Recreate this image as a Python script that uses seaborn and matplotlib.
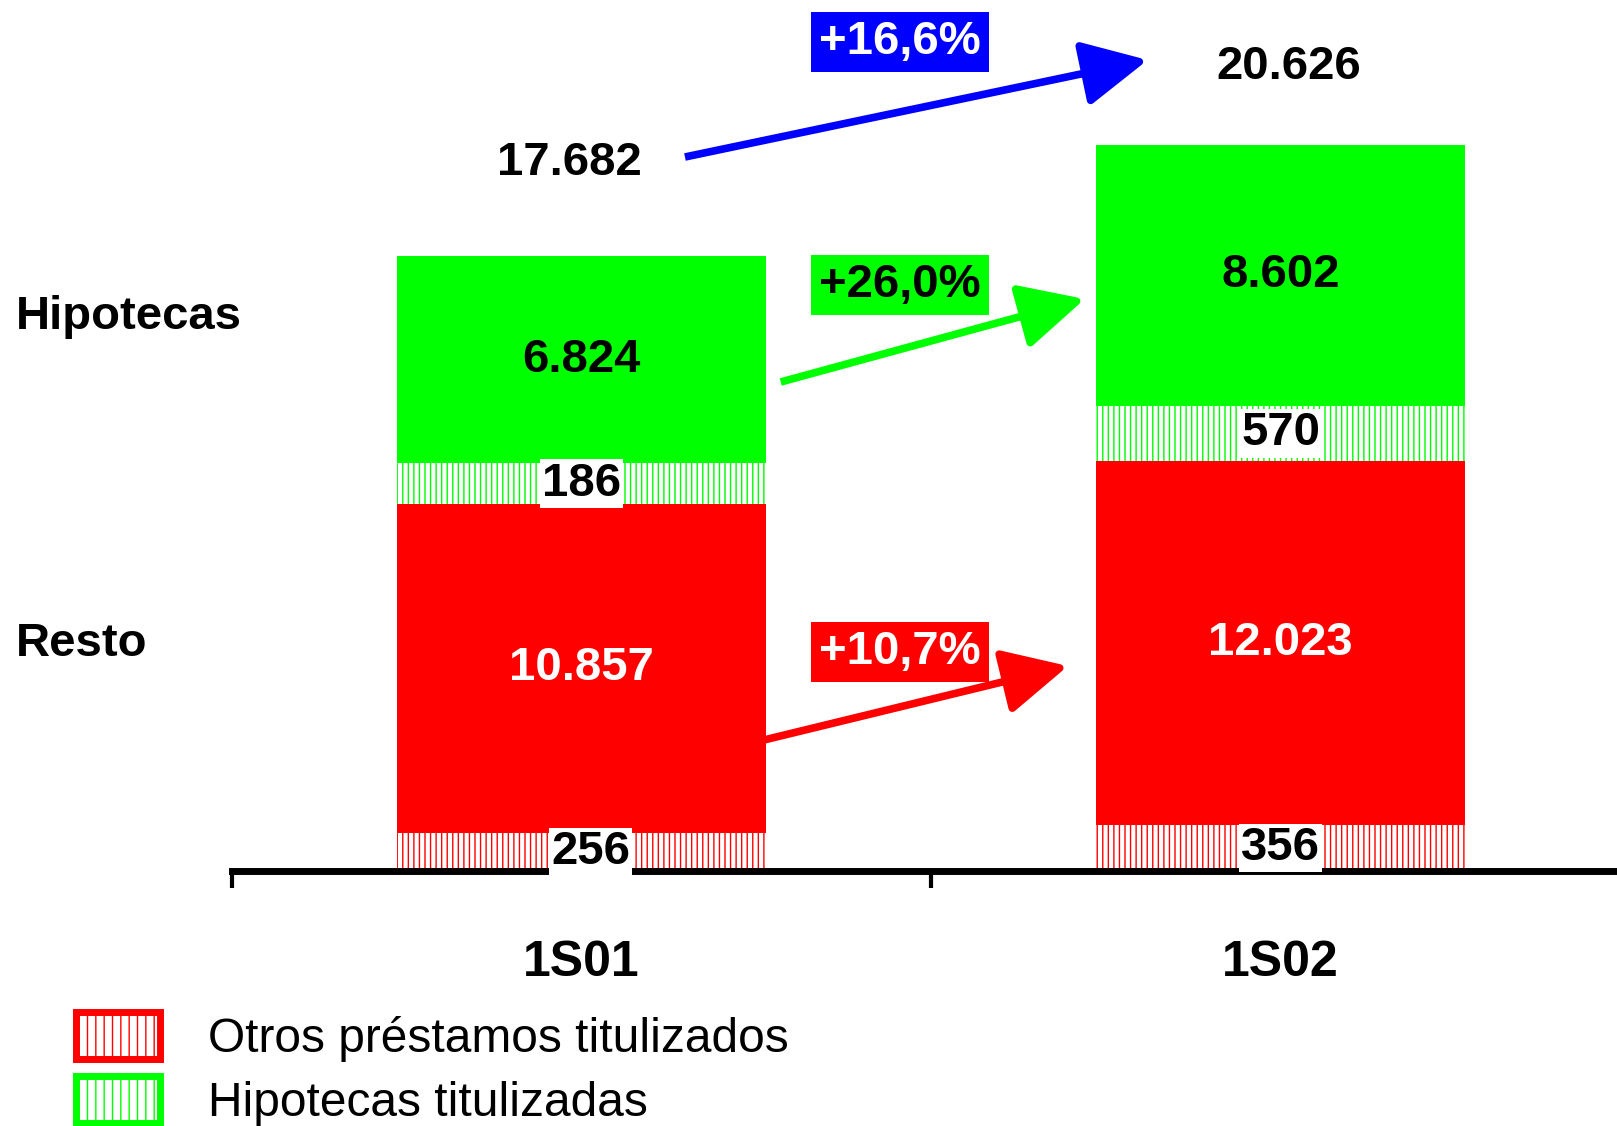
import matplotlib
matplotlib.use("Agg")
import matplotlib.pyplot as plt
from matplotlib.patches import Patch, FancyArrowPatch
import seaborn as sns
import pandas as pd

# datos (millones de euros)
categorias = ["1S01", "1S02"]
resto = [10857, 12023]
hipotecas = [6824, 8602]
otros_tit = [256, 356]
hip_tit = [186, 570]
totales = ["17.682", "20.626"]
variaciones = ["+16,6%", "+26,0%", "+10,7%"]
# altura visible de los tramos titulizados (no estan a escala en el original)
otros_tit_alto = [1254, 1518]
hip_tit_alto = [1353, 1815]

ROJO = "#FF0000"
VERDE = "#00FF00"
AZUL = "#0000FF"

sns.set_style("white")
plt.rcParams["font.family"] = ["Liberation Sans", "DejaVu Sans"]
plt.rcParams["text.color"] = "black"
plt.rcParams["xtick.color"] = "black"
plt.rcParams["xtick.labelcolor"] = "black"

BOLD = 34


def fmt(v):
    return f"{v:,}".replace(",", ".")


df = pd.DataFrame({
    "periodo": categorias,
    "c1": otros_tit_alto,
})
df["c2"] = df["c1"] + pd.Series(resto)
df["c3"] = df["c2"] + pd.Series(hip_tit_alto)
df["c4"] = df["c3"] + pd.Series(hipotecas)

fig = plt.figure(figsize=(16.17, 11.26), dpi=100)
ax = fig.add_axes([232 / 1617, 1 - 871 / 1126, 1398 / 1617, 871 / 1126])

capas = [
    ("c4", VERDE, None),
    ("c3", "white", VERDE),
    ("c2", ROJO, None),
    ("c1", "white", ROJO),
]
for col, cara, rayado in capas:
    antes = len(ax.patches)
    sns.barplot(data=df, x="periodo", y=col, color=cara, saturation=1,
                width=0.527, errorbar=None, linewidth=0, ax=ax)
    for p in ax.patches[antes:]:
        p.set_facecolor(cara)
        if rayado:
            p.set_edgecolor(rayado)
            p.set_hatch("|||")
            p.set_linewidth(0)

ax.set_xlim(-0.5, 1.5)
ax.set_ylim(0, 871 * 33)
ax.set_xlabel("")
ax.set_ylabel("")
ax.set_yticks([])
for s in ["left", "top", "right"]:
    ax.spines[s].set_visible(False)
ax.spines["bottom"].set_linewidth(5)
ax.spines["bottom"].set_color("black")
ax.spines["bottom"].set_zorder(5)
ax.set_xticks([0, 1])
ax.set_xticklabels(categorias, fontsize=36, fontweight="bold", color="black")
ax.tick_params(axis="x", which="major", length=0, pad=50)
ax.set_xticks([-0.5, 0.5, 1.5], minor=True)
ax.tick_params(axis="x", which="minor", bottom=True, length=12, width=3,
               color="black", direction="out")

# etiquetas de los tramos
for i in range(2):
    c1, c2, c3, c4 = df.loc[i, ["c1", "c2", "c3", "c4"]]
    caja = dict(boxstyle="square,pad=0.05", facecolor="white", edgecolor="none")
    ax.text(i + (0.013 if i == 0 else 0), c1 / 2, fmt(otros_tit[i]), ha="center", va="center",
            fontsize=BOLD, fontweight="bold", bbox=caja, zorder=6)
    ax.text(i, (c1 + c2) / 2, fmt(resto[i]), ha="center", va="center",
            fontsize=BOLD, fontweight="bold", color="white")
    ax.text(i, (c2 + c3) / 2, fmt(hip_tit[i]), ha="center", va="center",
            fontsize=BOLD, fontweight="bold", bbox=caja)
    ax.text(i, (c3 + c4) / 2, fmt(hipotecas[i]), ha="center", va="center",
            fontsize=BOLD, fontweight="bold")

ax.text(-0.018, 23364, totales[0], ha="center", va="center", fontsize=BOLD, fontweight="bold")
ax.text(1.012, 26532, totales[1], ha="center", va="center", fontsize=BOLD, fontweight="bold")

# flechas de variacion
flechas = [
    ((0.148, 23562), (0.810, 26763), AZUL),
    ((0.285, 16137), (0.720, 18876), VERDE),
    ((0.261, 4323), (0.696, 6765), ROJO),
]
for a, b, c in flechas:
    ax.add_patch(FancyArrowPatch(a, b, arrowstyle="-|>,head_length=40,head_width=20",
                                 mutation_scale=1, color=c, linewidth=5.5,
                                 capstyle="butt", joinstyle="round",
                                 shrinkA=0, shrinkB=0, clip_on=False, zorder=4))

cajas = [(27357, AZUL, "white"), (19338, VERDE, "black"), (7227, ROJO, "white")]
for txt, (y, fondo, letra) in zip(variaciones, cajas):
    ax.text(0.456, y, txt, ha="center", va="center", fontsize=BOLD, fontweight="bold",
            color=letra, zorder=5,
            bbox=dict(boxstyle="square,pad=0.17", facecolor=fondo, edgecolor="none"))

fig.text(16 / 1617, 1 - 317 / 1126, "Hipotecas", ha="left", va="center", fontsize=BOLD, fontweight="bold")
fig.text(16 / 1617, 1 - 644 / 1126, "Resto", ha="left", va="center", fontsize=BOLD, fontweight="bold")

handles = [
    Patch(facecolor="white", edgecolor=ROJO, hatch="||", linewidth=5),
    Patch(facecolor="white", edgecolor=VERDE, hatch="||", linewidth=5),
]
fig.legend(handles, ["Otros préstamos titulizados", "Hipotecas titulizadas"],
           loc="upper left", bbox_to_anchor=(76 / 1617, 1 - 1012 / 1126),
           frameon=False, fontsize=34.5, borderpad=0, borderaxespad=0,
           handlelength=1.75, handleheight=1.12, handletextpad=1.0, labelspacing=0.3)

fig.savefig("out.png", dpi=100)
